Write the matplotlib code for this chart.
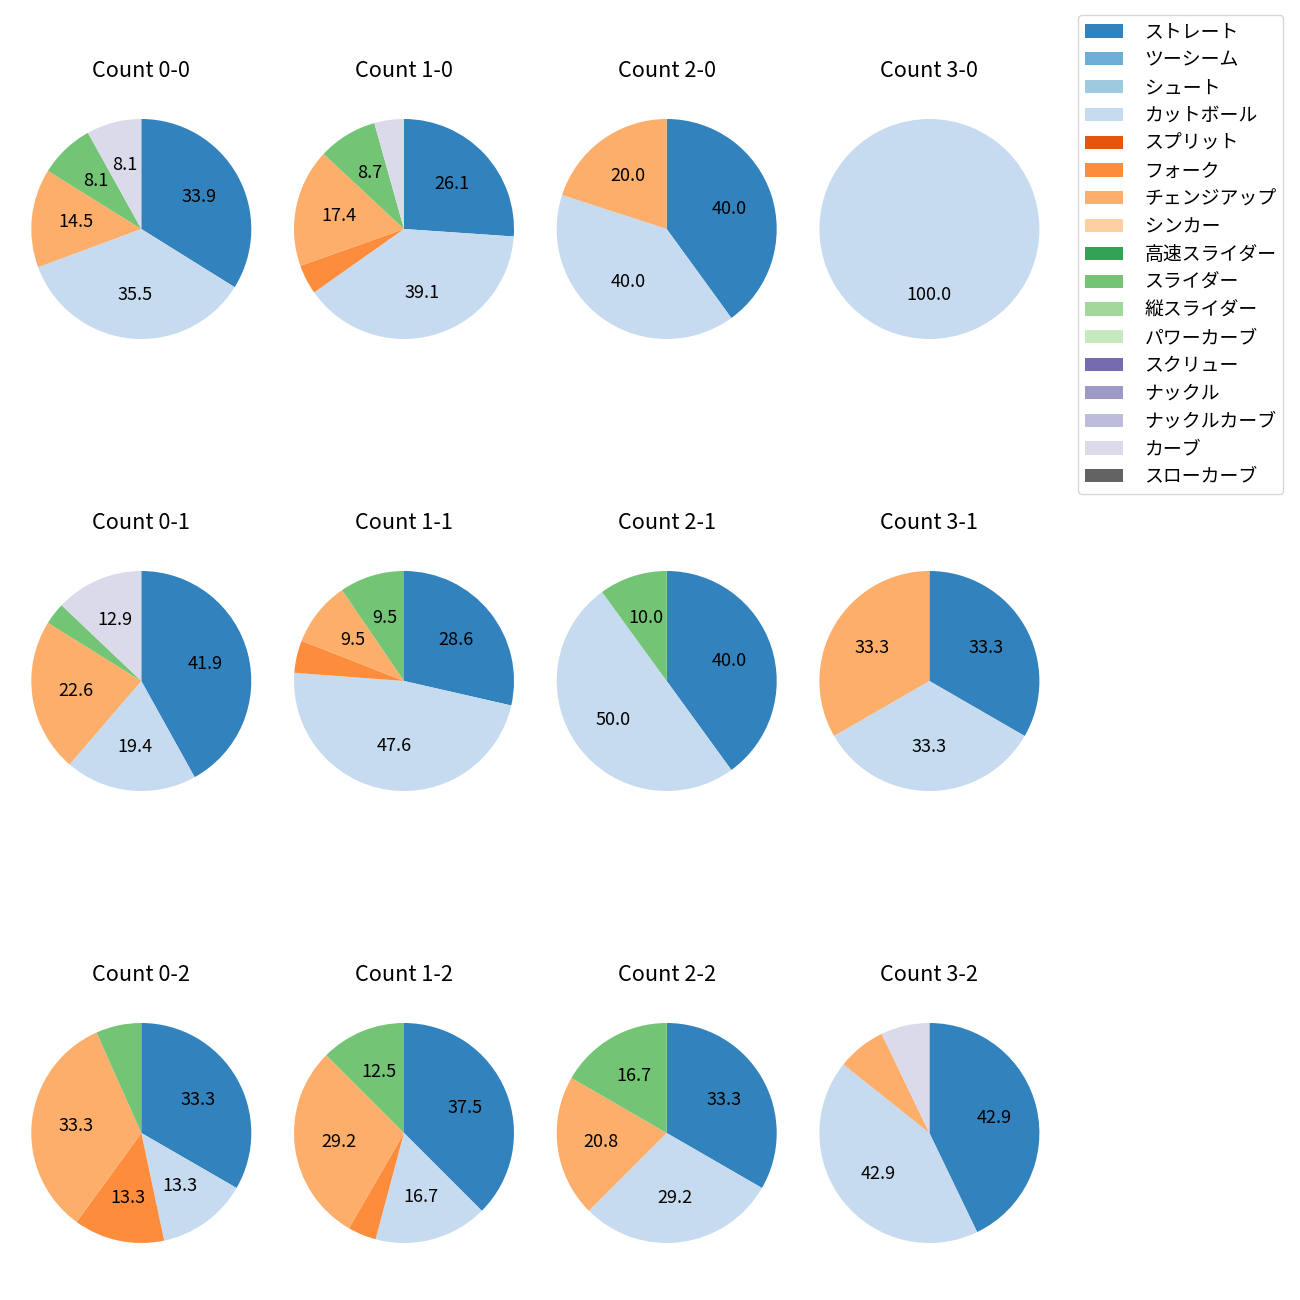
import matplotlib
matplotlib.use('Agg')
import matplotlib.pyplot as plt
from matplotlib.patches import Patch

plt.rcParams['font.family'] = ['Noto Sans CJK JP', 'DejaVu Sans']

pitch_types = ['ストレート', 'ツーシーム', 'シュート', 'カットボール', 'スプリット',
               'フォーク', 'チェンジアップ', 'シンカー', '高速スライダー', 'スライダー',
               '縦スライダー', 'パワーカーブ', 'スクリュー', 'ナックル', 'ナックルカーブ',
               'カーブ', 'スローカーブ']

count_labels = ['0-0', '1-0', '2-0', '3-0',
                '0-1', '1-1', '2-1', '3-1',
                '0-2', '1-2', '2-2', '3-2']

# pitch counts in pitch_types order
c_0_0 = [21, 0, 0, 22, 0, 0, 9, 0, 0, 5, 0, 0, 0, 0, 0, 5, 0]
c_1_0 = [6, 0, 0, 9, 0, 1, 4, 0, 0, 2, 0, 0, 0, 0, 0, 1, 0]
c_2_0 = [2, 0, 0, 2, 0, 0, 1, 0, 0, 0, 0, 0, 0, 0, 0, 0, 0]
c_3_0 = [0, 0, 0, 1, 0, 0, 0, 0, 0, 0, 0, 0, 0, 0, 0, 0, 0]
c_0_1 = [13, 0, 0, 6, 0, 0, 7, 0, 0, 1, 0, 0, 0, 0, 0, 4, 0]
c_1_1 = [6, 0, 0, 10, 0, 1, 2, 0, 0, 2, 0, 0, 0, 0, 0, 0, 0]
c_2_1 = [4, 0, 0, 5, 0, 0, 0, 0, 0, 1, 0, 0, 0, 0, 0, 0, 0]
c_3_1 = [1, 0, 0, 1, 0, 0, 1, 0, 0, 0, 0, 0, 0, 0, 0, 0, 0]
c_0_2 = [5, 0, 0, 2, 0, 2, 5, 0, 0, 1, 0, 0, 0, 0, 0, 0, 0]
c_1_2 = [9, 0, 0, 4, 0, 1, 7, 0, 0, 3, 0, 0, 0, 0, 0, 0, 0]
c_2_2 = [8, 0, 0, 7, 0, 0, 5, 0, 0, 4, 0, 0, 0, 0, 0, 0, 0]
c_3_2 = [6, 0, 0, 6, 0, 0, 1, 0, 0, 0, 0, 0, 0, 0, 0, 1, 0]

all_counts = [c_0_0, c_1_0, c_2_0, c_3_0,
              c_0_1, c_1_1, c_2_1, c_3_1,
              c_0_2, c_1_2, c_2_2, c_3_2]

cmap = plt.get_cmap('tab20c')
colors = [cmap(i) for i in range(len(pitch_types))]

W = H = 1300
fig = plt.figure(figsize=(13, 13), dpi=100)

S = 275.0  # axes size px (pie radius 110 px)
col_x = [141.3 + 262.7 * c for c in range(4)]
row_y = [229.0 + 452.0 * r for r in range(3)]

def fmt(p):
    return f'{p:.1f}' if p >= 7.5 else ''

for idx, (lab, vals) in enumerate(zip(count_labels, all_counts)):
    r, c = divmod(idx, 4)
    cx, cy = col_x[c], row_y[r]
    ax = fig.add_axes([(cx - S / 2) / W, (H - cy - S / 2) / H, S / W, S / H])
    v = [x for x in vals if x > 0]
    col = [colors[i] for i, x in enumerate(vals) if x > 0]
    ax.pie(v, colors=col, startangle=90, counterclock=False,
           autopct=fmt, textprops={'fontsize': 13})
    ax.set_title(f'Count {lab}', fontsize=15.6, pad=10.5)

handles = [Patch(facecolor=colors[i]) for i in range(len(pitch_types))]
fig.legend(handles, pitch_types, loc='upper right',
           bbox_to_anchor=(1283.3 / W, 1 - 15 / H), borderaxespad=0,
           fontsize=13.6, labelspacing=0.36, handletextpad=1.15,
           borderpad=0.35)

fig.savefig('out.png', dpi=100)
